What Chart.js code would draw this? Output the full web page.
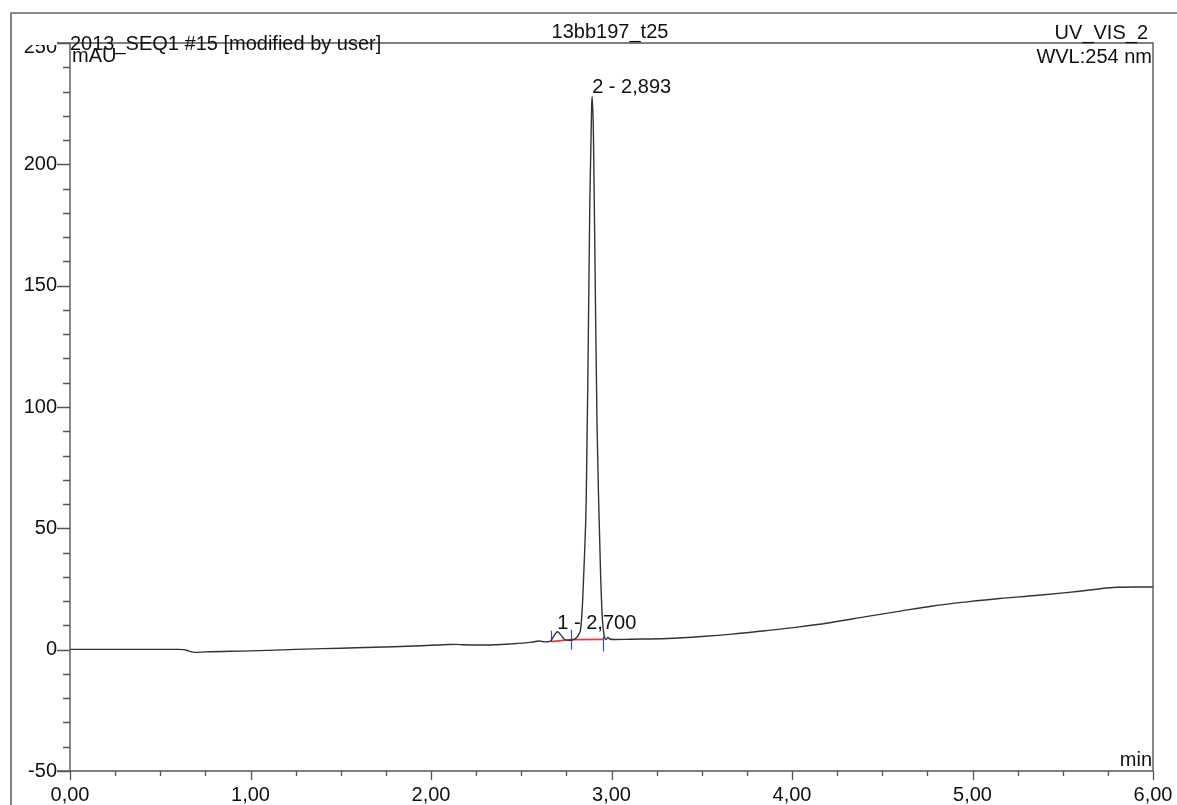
<!DOCTYPE html>
<html><head><meta charset="utf-8">
<script src="https://cdn.jsdelivr.net/npm/chart.js@4.4.1/dist/chart.umd.min.js"></script>
<style>html,body{margin:0;padding:0;background:#fff;overflow:hidden}#wrap{width:1177px;height:805px;position:relative}</style>
</head><body><div id="wrap"><canvas id="c" width="1177" height="805"></canvas></div>
<script>
// ---- data ----
const times  = [0.00,0.30,0.60,0.63,0.66,0.69,0.75,1.00,1.25,1.50,1.79,2.00,2.10,2.14,2.18,2.30,2.45,2.55,2.60,2.63,2.66,2.68,2.70,2.72,2.74,2.76,2.78,2.80,2.82,2.83,2.84,2.85,2.86,2.87,2.88,2.89,2.893,2.90,2.91,2.92,2.93,2.94,2.95,2.96,2.97,2.98,2.99,3.02,3.10,3.31,3.50,3.67,3.85,4.04,4.20,4.41,4.60,4.78,4.97,5.15,5.35,5.52,5.65,5.78,5.90,6.00];
const signal = [0.1,0.1,0.1,0.0,-0.6,-1.1,-0.9,-0.5,0.1,0.6,1.2,1.8,2.1,2.2,2.0,1.9,2.4,3.0,3.6,3.2,3.4,5.5,7.4,6.0,4.2,3.9,4.0,4.5,6.5,9,20,38,62,118,185,224,228,212,150,92,58,30,12,5.5,4.2,5.0,4.4,4.2,4.3,4.6,5.4,6.4,7.8,9.4,11.0,13.6,15.9,18.0,19.7,21.1,22.3,23.5,24.6,25.6,25.8,25.8];
const xTickValues = [0,1,2,3,4,5,6];
const yTickValues = [-50,0,50,100,150,200,250];
const peakTimes   = [2.700, 2.893];
const peakHeights = [7.4, 228];
const peakLabels  = ['1 - 2,700', '2 - 2,893'];
const delimTimes  = [2.665, 2.775, 2.953];
const delimBase   = [3.3, 4.1, 4.2];
const titleLeft   = '2013_SEQ1 #15 [modified by user]';
const titleCenter = '13bb197_t25';
const titleRight  = 'UV_VIS_2';
const wavelength  = 'WVL:254 nm';
const yUnit = 'mAU';
const xUnit = 'min';

const FONT = '"Liberation Sans", Arial, sans-serif';
const FSIZE = 20;
const TXT = '#111';
const FRAME = '#555';

const fmtX = v => v.toFixed(2).replace('.', ',');

const decor = {
  id: 'decor',
  beforeDatasetsDraw(chart) {
    const ctx = chart.ctx, xs = chart.scales.x, ys = chart.scales.y;
    ctx.save();
    // integration baseline (red)
    ctx.strokeStyle = '#e8383f'; ctx.lineWidth = 1.7;
    ctx.beginPath();
    delimTimes.forEach((t, i) => {
      const px = xs.getPixelForValue(t), py = ys.getPixelForValue(delimBase[i]);
      if (i === 0) ctx.moveTo(px, py); else ctx.lineTo(px, py);
    });
    ctx.stroke();
    // delimiter ticks (blue)
    const ext = [[-11, 0], [-10, 10], [-3, 12]];
    ctx.strokeStyle = '#3550c0'; ctx.lineWidth = 1.2;
    delimTimes.forEach((t, i) => {
      const px = Math.round(xs.getPixelForValue(t)) + 0.5, py = ys.getPixelForValue(delimBase[i]);
      ctx.beginPath(); ctx.moveTo(px, py + ext[i][0]); ctx.lineTo(px, py + ext[i][1]); ctx.stroke();
    });
    ctx.restore();
  },
  afterDraw(chart) {
    const ctx = chart.ctx, xs = chart.scales.x, ys = chart.scales.y, a = chart.chartArea;
    ctx.save();
    // outer frame
    ctx.strokeStyle = '#666'; ctx.lineWidth = 1.6;
    ctx.beginPath(); ctx.moveTo(11, 805); ctx.lineTo(11, 13); ctx.lineTo(1177, 13); ctx.stroke();
    // plot box
    ctx.strokeStyle = FRAME; ctx.lineWidth = 1.4;
    ctx.beginPath();
    ctx.moveTo(a.left - 13, a.top); ctx.lineTo(a.right, a.top); ctx.lineTo(a.right, a.bottom); ctx.lineTo(a.left - 13, a.bottom);
    ctx.moveTo(a.left, a.top); ctx.lineTo(a.left, a.bottom);
    ctx.stroke();
    // y ticks
    ctx.lineWidth = 1.3;
    ctx.beginPath();
    for (let v = -50; v <= 250; v += 10) {
      const py = Math.round(ys.getPixelForValue(v)) + 0.5;
      const len = (v % 50 === 0) ? 13 : 7;
      ctx.moveTo(a.left - len, py); ctx.lineTo(a.left, py);
    }
    // x ticks
    for (let v = 0; v <= 6.0001; v += 0.25) {
      const px = Math.round(xs.getPixelForValue(v)) + 0.5;
      const len = (Math.abs(v - Math.round(v)) < 1e-6) ? 9 : 5;
      ctx.moveTo(px, a.bottom); ctx.lineTo(px, a.bottom + len);
    }
    ctx.stroke();
    // texts
    ctx.fillStyle = TXT;
    ctx.font = FSIZE + 'px ' + FONT;
    ctx.textBaseline = 'alphabetic';
    ctx.textAlign = 'left';
    ctx.fillText(titleLeft, 70, 50);
    ctx.fillText(yUnit, 72, 62);
    ctx.textAlign = 'center';
    ctx.fillText(titleCenter, 610, 38);
    ctx.textAlign = 'right';
    ctx.fillText(titleRight, 1148, 39);
    ctx.fillText(wavelength, 1152, 63);
    ctx.fillText(xUnit, 1152, 766);
    // clipped top y label
    ctx.save();
    ctx.beginPath(); ctx.rect(0, a.top + 2, a.left, 30); ctx.clip();
    ctx.textBaseline = 'alphabetic';
    ctx.fillText(String(yTickValues[yTickValues.length - 1]), a.left - 13, ys.getPixelForValue(250) + 10);
    ctx.restore();
    // peak labels
    ctx.textAlign = 'left'; ctx.textBaseline = 'alphabetic';
    peakTimes.forEach((t, i) => {
      ctx.fillText(peakLabels[i], xs.getPixelForValue(t), ys.getPixelForValue(peakHeights[i]) - 3);
    });
    ctx.restore();
  }
};

new Chart(document.getElementById('c'), {
  type: 'line',
  data: {
    datasets: [{
      data: times.map((t, i) => ({ x: t, y: signal[i] })),
      borderColor: '#333',
      borderWidth: 1.4,
      pointRadius: 0,
      cubicInterpolationMode: 'monotone',
      fill: false
    }]
  },
  options: {
    responsive: false,
    animation: false,
    devicePixelRatio: 1,
    layout: { padding: { top: 43, right: 24, left: 0, bottom: 0 } },
    plugins: { legend: { display: false }, tooltip: { enabled: false }, title: { display: false } },
    scales: {
      x: {
        type: 'linear', min: 0, max: 6,
        afterFit: s => { s.height = 34; s.paddingLeft = 0; s.paddingRight = 0; },
        afterBuildTicks: s => { s.ticks = xTickValues.map(v => ({ value: v })); },
        grid: { display: false, drawTicks: false },
        border: { display: false },
        ticks: { autoSkip: false, maxRotation: 0, padding: 12, color: TXT, font: { family: FONT, size: FSIZE }, callback: v => fmtX(v) }
      },
      y: {
        type: 'linear', min: -50, max: 250,
        afterFit: s => { s.width = 70; s.paddingTop = 0; s.paddingBottom = 0; },
        afterBuildTicks: s => { s.ticks = yTickValues.map(v => ({ value: v })); },
        grid: { display: false, drawTicks: false },
        border: { display: false },
        ticks: { autoSkip: false, padding: 13, color: TXT, font: { family: FONT, size: FSIZE }, callback: v => (v === 250 ? '' : String(v)) }
      }
    }
  },
  plugins: [decor]
});
</script>
</body></html>
